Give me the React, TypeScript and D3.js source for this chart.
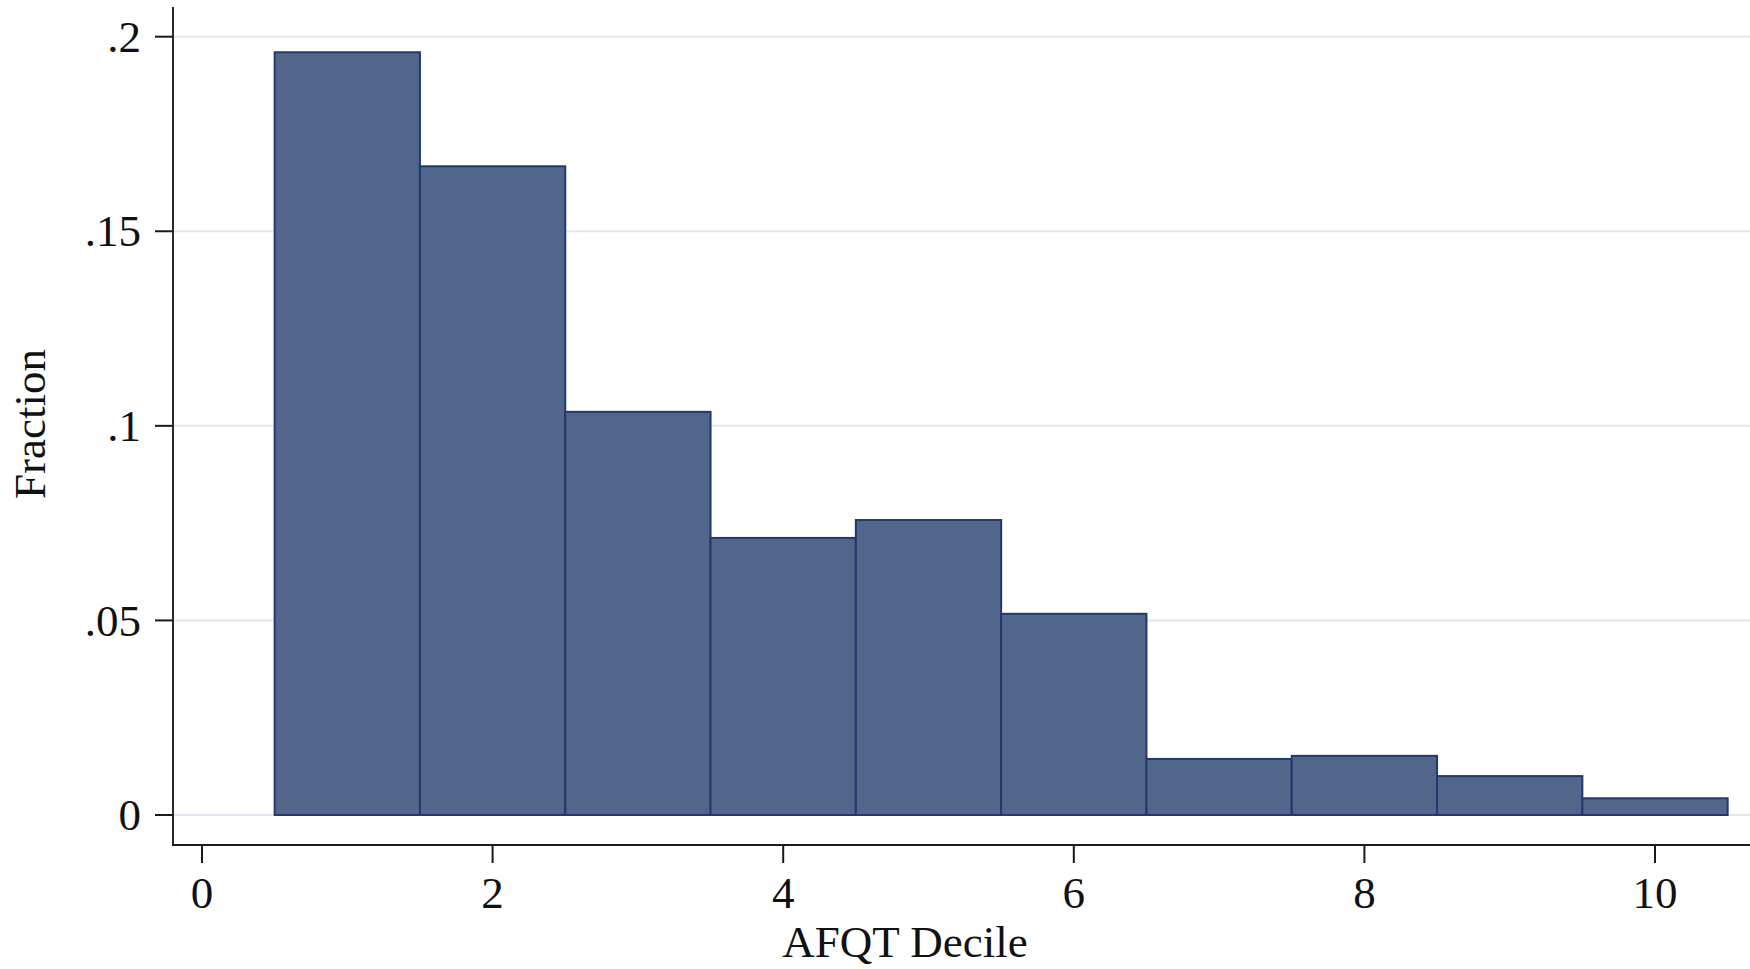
import React from "react";
import * as d3 from "d3";

const deciles = [1, 2, 3, 4, 5, 6, 7, 8, 9, 10];
const fractions = [0.196, 0.1667, 0.1036, 0.0712, 0.0758, 0.0517, 0.0144, 0.0152, 0.01, 0.0043];
const xTicks = [0, 2, 4, 6, 8, 10];
const yTicks = [0, 0.05, 0.1, 0.15, 0.2];
const yTickLabels = ["0", ".05", ".1", ".15", ".2"];
const xTitle = "AFQT Decile";
const yTitle = "Fraction";

const W = 1750;
const H = 969;
const FONT = "'Liberation Serif', 'DejaVu Serif', serif";
const FS = 45;

export default function App() {
  const x = d3.scaleLinear().domain([0, 10]).range([202, 1655]);
  const y = d3.scaleLinear().domain([0, 0.2]).range([815, 36.7]);
  const axisX = 173;
  const axisY = 845;
  const topY = 7;
  const binW = 1;

  return (
    <div style={{ position: "fixed", left: 0, top: 0, width: W, height: H, background: "#fff" }}>
      <svg width={W} height={H} style={{ display: "block" }}>
        <rect x={0} y={0} width={W} height={H} fill="#fff" />
        {/* gridlines */}
        {yTicks.map((t) => (
          <line key={"g" + t} x1={axisX} x2={W} y1={y(t)} y2={y(t)} stroke="#e3e6f1" strokeWidth={2} />
        ))}
        {/* bars */}
        {deciles.map((d, i) => (
          <rect
            key={"b" + d}
            x={x(d - binW / 2)}
            y={y(fractions[i])}
            width={x(d + binW / 2) - x(d - binW / 2)}
            height={y(0) - y(fractions[i])}
            fill="#52658b"
            stroke="#223a6b"
            strokeWidth={2}
          />
        ))}
        {/* y axis */}
        <line x1={axisX} x2={axisX} y1={topY} y2={axisY + 1} stroke="#2b2b2b" strokeWidth={2} />
        {yTicks.map((t, i) => (
          <g key={"yt" + t}>
            <line x1={axisX - 18} x2={axisX} y1={y(t)} y2={y(t)} stroke="#1a1a1a" strokeWidth={2} />
            <text
              x={axisX - 32}
              y={y(t) + FS * 0.335}
              textAnchor="end"
              fontFamily={FONT}
              fontSize={FS}
              fill="#111"
            >
              {yTickLabels[i]}
            </text>
          </g>
        ))}
        {/* x axis */}
        <line x1={axisX - 1} x2={W} y1={axisY} y2={axisY} stroke="#1a1a1a" strokeWidth={2} />
        {xTicks.map((t) => (
          <g key={"xt" + t}>
            <line x1={x(t)} x2={x(t)} y1={axisY} y2={axisY + 18} stroke="#1a1a1a" strokeWidth={2} />
            <text x={x(t)} y={908} textAnchor="middle" fontFamily={FONT} fontSize={FS} fill="#111">
              {t}
            </text>
          </g>
        ))}
        {/* titles */}
        <text x={905} y={957} textAnchor="middle" fontFamily={FONT} fontSize={FS} fill="#111">
          {xTitle}
        </text>
        <text
          transform={`translate(45, 424) rotate(-90)`}
          textAnchor="middle"
          fontFamily={FONT}
          fontSize={FS}
          fill="#111"
        >
          {yTitle}
        </text>
      </svg>
    </div>
  );
}
